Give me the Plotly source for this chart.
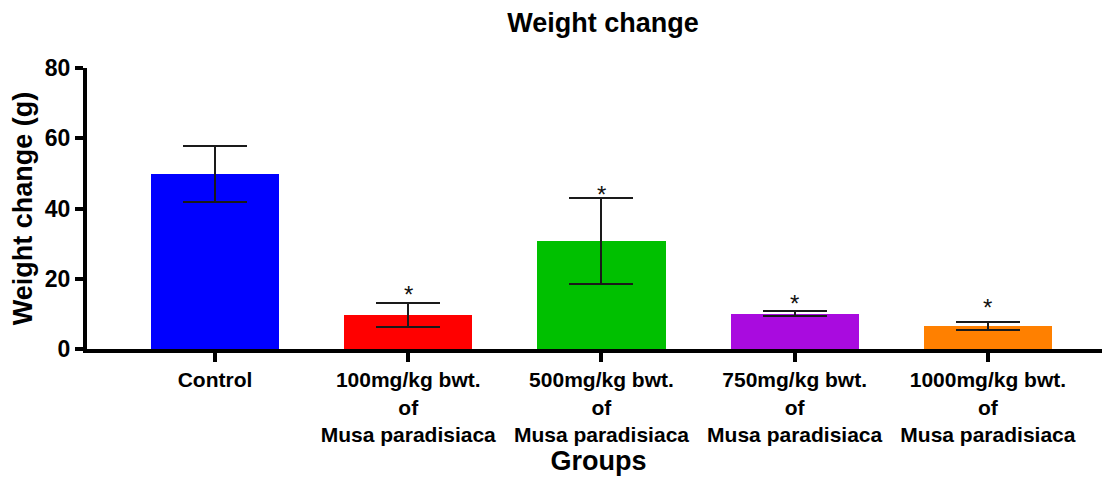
import plotly.graph_objects as go

groups = ["Control",
          "100mg/kg bwt.<br>of<br>Musa paradisiaca",
          "500mg/kg bwt.<br>of<br>Musa paradisiaca",
          "750mg/kg bwt.<br>of<br>Musa paradisiaca",
          "1000mg/kg bwt.<br>of<br>Musa paradisiaca"]
means = [49.8, 9.8, 30.8, 10.1, 6.5]
errors = [7.9, 3.4, 12.2, 0.6, 1.2]
colors = ["#0000FF", "#FF0000", "#00C000", "#A90BDF", "#FF8000"]
star_labels = ["", "*", "*", "*", "*"]
star_y = [None, 16.7, 45.0, 14.0, 13.0]
y_ticks = [0, 20, 40, 60, 80]

FONT = "Arial, Liberation Sans, sans-serif"

fig = go.Figure()
fig.add_trace(go.Bar(
    x=list(range(len(groups))), y=means,
    marker=dict(color=colors, line=dict(width=0)),
    width=0.663,
    error_y=dict(type="data", array=errors, visible=True,
                 color="#1a1a1a", thickness=2, width=32),
    showlegend=False,
))

for i, (lab, sy) in enumerate(zip(star_labels, star_y)):
    if lab:
        fig.add_annotation(x=i, y=sy, text=lab, showarrow=False,
                           yanchor="middle", yshift=-4,
                           font=dict(family=FONT, size=24, color="#111"))

fig.update_layout(
    width=1102, height=473,
    margin=dict(l=79, r=0, t=60, b=132),
    plot_bgcolor="white", paper_bgcolor="white",
    title=dict(text="Weight change", x=0.540, xanchor="center", y=0.970, yanchor="middle",
               font=dict(family=FONT, size=27, color="black", weight="bold")),
    bargap=0,
)
fig.update_xaxes(
    tickmode="array", tickvals=list(range(len(groups))), ticktext=groups,
    range=[-0.6625, 4.632], automargin=False,
    showline=True, linewidth=4, linecolor="black",
    ticks="outside", ticklen=9, tickwidth=4, tickcolor="black",
    showgrid=False, zeroline=False,
    tickfont=dict(family=FONT, size=21, color="black", weight="bold"),
    title=dict(text="Groups", font=dict(family=FONT, size=27, color="black", weight="bold"),
               standoff=0),
)
fig.update_yaxes(
    range=[0, 80], tickvals=y_ticks, automargin=False,
    showline=True, linewidth=4, linecolor="black",
    ticks="outside", ticklen=8, tickwidth=4, tickcolor="black",
    showgrid=False, zeroline=False,
    tickfont=dict(family=FONT, size=23, color="black", weight="bold"),
    title=dict(text="Weight change (g)", font=dict(family=FONT, size=27, color="black", weight="bold"),
               standoff=8),
)

fig.write_html("out.html")
